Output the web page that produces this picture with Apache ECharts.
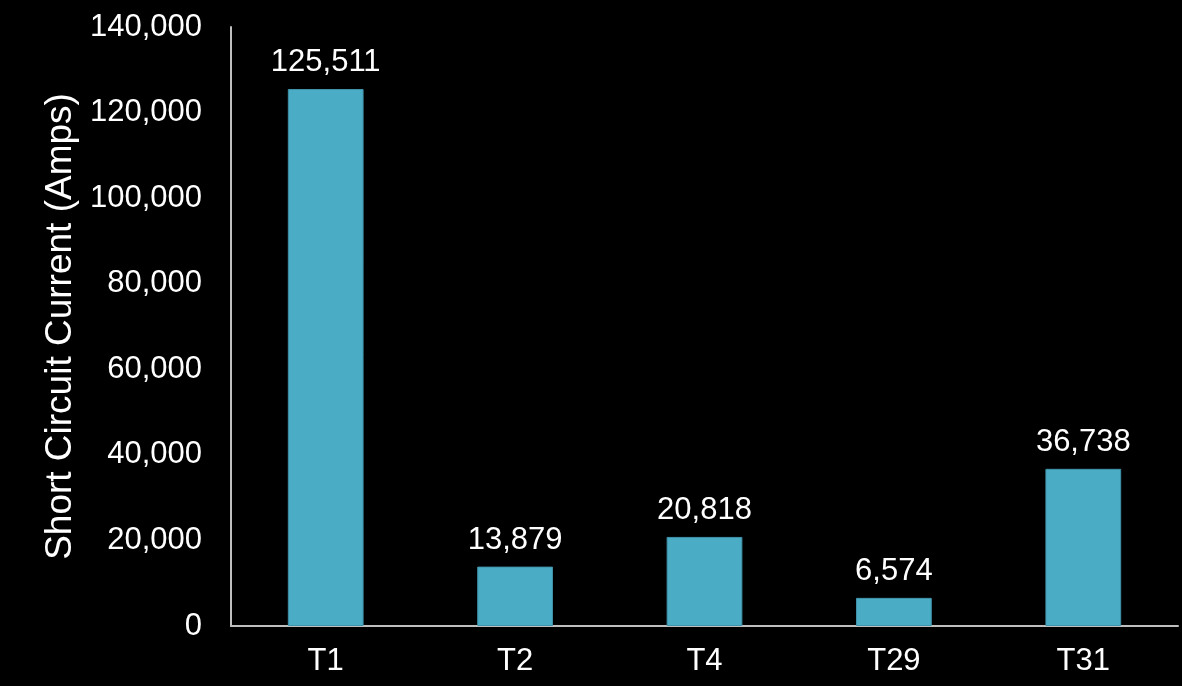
<!DOCTYPE html>
<html>
<head>
<meta charset="utf-8">
<script src="https://cdn.jsdelivr.net/npm/echarts@6/dist/echarts.min.js"></script>
<style>
  html, body { margin: 0; padding: 0; background: #000; }
  #chart { width: 1182px; height: 686px; }
</style>
</head>
<body>
<div id="chart"></div>
<script>
// Transformer locations and their available short circuit current
const categories = ['T1', 'T2', 'T4', 'T29', 'T31'];
const currentAmps = [125511, 13879, 20818, 6574, 36738];
const yTicks = [0, 20000, 40000, 60000, 80000, 100000, 120000, 140000];

const fmt = v => v.toLocaleString('en-US');
const font = '"Liberation Sans", Arial, sans-serif';

const chart = echarts.init(document.getElementById('chart'));
chart.setOption({
  backgroundColor: '#000000',
  animation: false,
  grid: { left: 231, right: 4, top: 27, bottom: 60 },
  xAxis: {
    type: 'category',
    data: categories,
    axisLine: { show: true, lineStyle: { color: '#bfbfbf', width: 2 } },
    axisTick: { show: false },
    axisLabel: { color: '#ffffff', fontSize: 31, fontFamily: font, margin: 20 }
  },
  yAxis: {
    type: 'value',
    min: yTicks[0],
    max: yTicks[yTicks.length - 1],
    interval: yTicks[1] - yTicks[0],
    name: 'Short Circuit Current (Amps)',
    nameLocation: 'middle',
    nameGap: 147,
    nameTextStyle: { color: '#ffffff', fontSize: 37, fontFamily: font },
    axisLine: { show: true, lineStyle: { color: '#bfbfbf', width: 2 } },
    axisTick: { show: false },
    splitLine: { show: false },
    axisLabel: { color: '#ffffff', fontSize: 31, fontFamily: font, margin: 29, formatter: fmt }
  },
  series: [{
    type: 'bar',
    data: currentAmps,
    barWidth: '40%',
    itemStyle: { color: '#4bacc6', borderColor: '#3f93aa', borderWidth: 1 },
    label: {
      show: true,
      position: 'top',
      distance: 11,
      color: '#ffffff',
      fontSize: 31,
      fontFamily: font,
      formatter: p => fmt(p.value)
    }
  }]
});
</script>
</body>
</html>
